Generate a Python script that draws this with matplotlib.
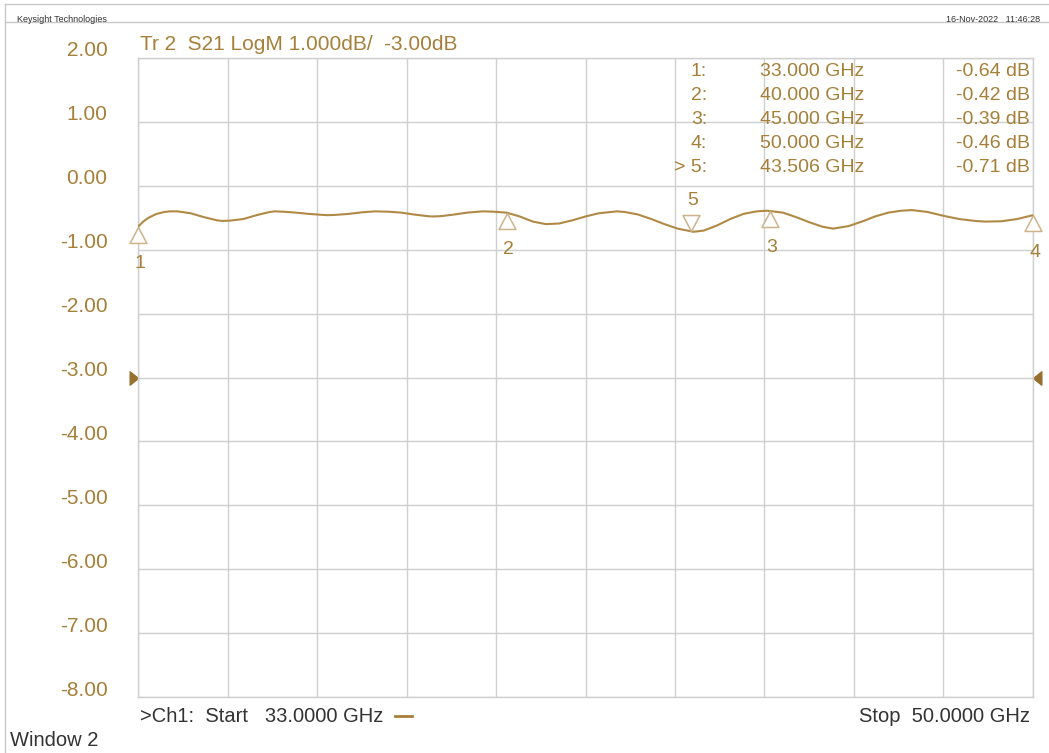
import numpy as np
import matplotlib
matplotlib.use("Agg")
import matplotlib.pyplot as plt
from matplotlib.path import Path
from matplotlib.lines import Line2D
from matplotlib.transforms import ScaledTranslation

plt.rcParams['font.family'] = ['Liberation Sans', 'DejaVu Sans']

# trace (GHz, dB)
freq_ghz = [33.00, 33.10, 33.20, 33.35, 33.50, 33.60, 33.75, 34.00, 34.25, 34.50,
            34.60, 34.75, 35.00, 35.25, 35.50, 35.60, 35.75, 36.00, 36.25, 36.50,
            36.60, 36.75, 37.00, 37.25, 37.50, 37.75, 38.00, 38.25, 38.50, 38.60,
            38.75, 39.00, 39.25, 39.55, 39.75, 40.00, 40.25, 40.50, 40.75, 41.00,
            41.25, 41.50, 41.75, 42.10, 42.25, 42.50, 42.75, 43.00, 43.25, 43.55,
            43.75, 44.00, 44.25, 44.50, 44.75, 44.95, 45.25, 45.50, 45.75, 46.00,
            46.20, 46.50, 46.75, 47.00, 47.25, 47.50, 47.70, 48.00, 48.30, 48.60,
            48.90, 49.10, 49.40, 49.70, 50.00]
s21_db = [-0.64, -0.56, -0.50, -0.44, -0.41, -0.40, -0.40, -0.43, -0.49, -0.54,
          -0.55, -0.545, -0.52, -0.46, -0.41, -0.40, -0.405, -0.42, -0.44, -0.455,
          -0.46, -0.455, -0.44, -0.415, -0.40, -0.405, -0.42, -0.45, -0.475, -0.48,
          -0.475, -0.45, -0.42, -0.40, -0.405, -0.42, -0.48, -0.56, -0.60, -0.59,
          -0.54, -0.48, -0.43, -0.40, -0.41, -0.45, -0.52, -0.60, -0.67, -0.72,
          -0.70, -0.62, -0.52, -0.44, -0.40, -0.39, -0.42, -0.49, -0.57, -0.64,
          -0.67, -0.63, -0.56, -0.48, -0.42, -0.39, -0.38, -0.41, -0.47, -0.52,
          -0.55, -0.56, -0.555, -0.52, -0.46]

marker_ids = ["1", "2", "3", "4", "5"]
marker_freq = [33.000, 40.000, 45.000, 50.000, 43.506]
marker_db = [-0.64, -0.42, -0.39, -0.46, -0.71]
marker_up = [True, True, True, True, False]
active_marker = "5"

y_ticks = [2, 1, 0, -1, -2, -3, -4, -5, -6, -7, -8]
ref_level = -3.0
f_start, f_stop = 33.0, 50.0

TAN = "#a67f38"
TRACE = "#b08a45"
MARK = "#cdb38a"
GRID = "#cfcfcf"
DARK = "#333333"

W, H = 1049, 753
fig = plt.figure(figsize=(W / 100, H / 100), dpi=100)
fig.patch.set_facecolor("white")

def fx(px):
    return px / W

def fy(py):
    return 1 - py / H

ax = fig.add_axes([fx(138), fy(697), fx(1033) - fx(138), fy(58) - fy(697)])
ax.set_xlim(f_start, f_stop)
ax.set_ylim(-8, 2)
ax.set_xticks(np.linspace(f_start, f_stop, 11))
ax.set_xticklabels([])
ax.set_yticks(y_ticks)
ax.set_yticklabels(["%.2f" % v for v in y_ticks], color=TAN, fontsize=15)
ax.tick_params(length=0, pad=22)
for lab in ax.get_yticklabels():
    lab.set_transform(lab.get_transform() + ScaledTranslation(0, 9 / 100, fig.dpi_scale_trans))
ax.grid(True, color=GRID, lw=1)
for s in ax.spines.values():
    s.set_color(GRID)
    s.set_linewidth(1)

ax.plot(freq_ghz, s21_db, color=TRACE, lw=1.5, solid_joinstyle="round", zorder=3)

# marker triangles, apex on the trace
tri_up = Path([(0, 0), (-0.53, -1), (0.53, -1), (0, 0)],
              [Path.MOVETO, Path.LINETO, Path.LINETO, Path.CLOSEPOLY])
tri_dn = Path([(0, 0), (-0.53, 1), (0.53, 1), (0, 0)],
              [Path.MOVETO, Path.LINETO, Path.LINETO, Path.CLOSEPOLY])
for mid, f, v, up in zip(marker_ids, marker_freq, marker_db, marker_up):
    ax.plot([f], [v], marker=tri_up if up else tri_dn, ms=23, mfc="white",
            mec=MARK, mew=1.1, ls="none", clip_on=False, zorder=4)
    ax.annotate(mid, (f, v), xytext=(2, -37 if up else 31), textcoords="offset pixels",
                ha="center", va="center", color=TAN, fontsize=14, annotation_clip=False)

# reference level arrows
ref_r = Path([(0, 0), (-1, 0.8), (-1, -0.8), (0, 0)],
             [Path.MOVETO, Path.LINETO, Path.LINETO, Path.CLOSEPOLY])
ref_l = Path([(0, 0), (1, 0.8), (1, -0.8), (0, 0)],
             [Path.MOVETO, Path.LINETO, Path.LINETO, Path.CLOSEPOLY])
ax.plot([f_start], [ref_level], marker=ref_r, ms=12, color="#98702e", ls="none", clip_on=False)
ax.plot([f_stop], [ref_level], marker=ref_l, ms=12, color="#98702e", ls="none", clip_on=False)

# header
fig.text(fx(140), fy(45), "Tr 2  S21 LogM 1.000dB/  -3.00dB", color=TAN, fontsize=15,
         ha="left", va="center")

# marker table
for i, (mid, f, v) in enumerate(zip(marker_ids, marker_freq, marker_db)):
    yy = fy(71 + 24 * i)
    lab = ("> " if mid == active_marker else "") + mid + ":"
    fig.text(fx(707), yy, lab, color=TAN, fontsize=14, ha="right", va="center")
    fig.text(fx(864), yy, "%.3f GHz" % f, color=TAN, fontsize=14, ha="right", va="center")
    fig.text(fx(1030), yy, "%.2f dB" % v, color=TAN, fontsize=14, ha="right", va="center")

# footer
fig.text(fx(140), fy(716), ">Ch1:  Start   %.4f GHz" % f_start, color=DARK, fontsize=14.5,
         ha="left", va="center")
fig.add_artist(Line2D([fx(395), fx(412)], [fy(716), fy(716)], color=TAN, lw=2))
fig.text(fx(1030), fy(716), "Stop  %.4f GHz" % f_stop, color=DARK, fontsize=14.5,
         ha="right", va="center")
fig.text(fx(10), fy(741), "Window 2", color=DARK, fontsize=14.5, ha="left", va="center")

# instrument frame
fig.add_artist(Line2D([fx(5), fx(5)], [fy(4), fy(753)], color="#c8c8c8", lw=1))
fig.add_artist(Line2D([fx(5), fx(1049)], [fy(4), fy(4)], color="#c8c8c8", lw=1))
fig.add_artist(Line2D([fx(5), fx(1049)], [fy(22), fy(22)], color="#c8c8c8", lw=1))
fig.text(fx(17), fy(19), "Keysight Technologies", color=DARK, fontsize=6.5, ha="left", va="center")
fig.text(fx(1040), fy(19), "16-Nov-2022   11:46:28", color=DARK, fontsize=6.5,
         ha="right", va="center")

fig.savefig("out.png", dpi=100)
